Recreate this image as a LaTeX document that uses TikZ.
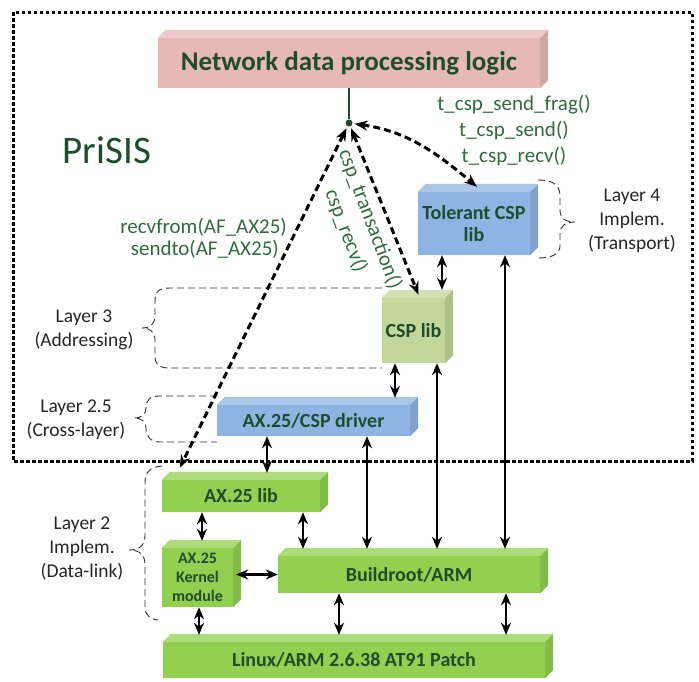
\documentclass[tikz,border=0pt]{standalone}
\usepackage{fontspec}
\setmainfont{Carlito}
\usetikzlibrary{arrows.meta,calc}

\definecolor{pinkbox}{HTML}{E6B9B8}
\definecolor{greenbox}{HTML}{92D050}
\definecolor{lightgreenbox}{HTML}{C3D69B}
\definecolor{bluebox}{HTML}{8EB4E3}
\definecolor{labelgreen}{HTML}{1E4D2B}
\definecolor{apigreen}{HTML}{2F6B3F}
\definecolor{layergray}{HTML}{262626}

% top and right faces of a cuboid whose front face is node #1
\newcommand\cubefaces[2]{%
  \fill[#2!75!white] (#1.north west) -- ++(8,-8) -- ([shift={(8,-8)}]#1.north east) -- (#1.north east) -- cycle;
  \fill[#2!90!black] (#1.north east) -- ++(8,-8) -- ([shift={(8,-8)}]#1.south east) -- (#1.south east) -- cycle;
}

\tikzset{
  boxface/.style={fill=#1, draw=none, inner sep=0pt, align=center, text=labelgreen,
    font=\fontsize{20}{22}\selectfont\bfseries},
  twoway/.style={line width=2.7pt, {Stealth[length=12pt,width=10pt]}-{Stealth[length=12pt,width=10pt]}},
  callpath/.style={line width=3pt, dash pattern=on 7pt off 4pt,
    {Stealth[length=13pt,width=10pt]}-{Stealth[length=13pt,width=10pt]}},
  brace/.style={draw=black!80, line width=0.9pt, dash pattern=on 7pt off 4pt},
  layertext/.style={align=center, text=layergray, font=\fontsize{19.5}{24}\selectfont},
  apitext/.style={text=apigreen, font=\fontsize{21}{26}\selectfont, inner sep=0pt},
}

\begin{document}
\begin{tikzpicture}[x=1pt, y=-1pt]
\useasboundingbox (0,0) rectangle (699,681);

% system boundary
\draw[line width=3pt, dash pattern=on 3.5pt off 2.5pt] (13,12) rectangle (692,461);

% layer braces
\draw[brace] (382,288) -- (170,288) .. controls (158,288) and (155,292) .. (155,302) -- (155,316)
  .. controls (155,324) and (150,328) .. (142,328) .. controls (150,328) and (155,332) .. (155,340)
  -- (155,356) .. controls (155,364) and (158,368) .. (170,368) -- (382,368);
\draw[brace] (217,396) -- (160,396) .. controls (150,396) and (146,400) .. (146,408)
  .. controls (146,414) and (142,418) .. (134,418) .. controls (142,418) and (146,422) .. (146,428)
  .. controls (146,436) and (150,442) .. (160,442) -- (217,442);
\draw[brace] (162,466) .. controls (150,467) and (145,472) .. (145,482) -- (145,535)
  .. controls (145,545) and (140,550) .. (129,550) .. controls (140,550) and (145,555) .. (145,565)
  -- (145,607) .. controls (145,615) and (150,619) .. (158,620);
\draw[brace] (538,180) .. controls (552,180) and (560,184) .. (560,196) -- (560,210)
  .. controls (560,218) and (565,222) .. (575,222) .. controls (565,222) and (560,226) .. (560,234)
  -- (560,246) .. controls (560,254) and (552,258) .. (538,258);

% layer labels
\node[layertext] (l4) at (632,221) {Layer 4\\Implem.\\(Transport)};
\node[layertext] (l3) at (84,330) {Layer 3\\(Addressing)};
\node[layertext] (l25) at (76,420) {Layer 2.5\\(Cross-layer)};
\node[layertext] (l2) at (82,549) {Layer 2\\Implem.\\(Data-link)};

\node[text=labelgreen, font=\fontsize{39}{40}\selectfont] (prisis) at (107,150) {PriSIS};

% cuboids (front faces)
\node[boxface=pinkbox, minimum width=382pt, minimum height=50pt,
      font=\fontsize{27}{29}\selectfont\bfseries] (net) at (349,63) {Network data processing logic};
\node[boxface=bluebox, minimum width=112pt, minimum height=63pt, font=\fontsize{20}{22}\selectfont\bfseries]
      (tol) at (474,223.5) {Tolerant CSP\\lib};
\node[boxface=lightgreenbox, minimum width=63pt, minimum height=65pt] (csp) at (413.5,330.5) {CSP lib};
\node[boxface=bluebox, minimum width=193pt, minimum height=31pt] (drv) at (313.5,420.5) {AX.25/CSP driver};
\node[boxface=greenbox, minimum width=158pt, minimum height=32pt] (axlib) at (241,496) {AX.25 lib};
\node[boxface=greenbox, minimum width=71pt, minimum height=59pt, font=\fontsize{16}{19}\selectfont\bfseries]
      (kern) at (197.5,577.5) {AX.25\\Kernel\\module};
\node[boxface=greenbox, minimum width=262pt, minimum height=37pt] (build) at (409,574.5) {Buildroot/ARM};
\node[boxface=greenbox, minimum width=382pt, minimum height=36pt] (linux) at (354,660) {Linux/ARM 2.6.38 AT91 Patch};

\cubefaces{net}{pinkbox}
\cubefaces{tol}{bluebox}
\cubefaces{csp}{lightgreenbox}
\cubefaces{drv}{bluebox}
\cubefaces{axlib}{greenbox}
\cubefaces{kern}{greenbox}
\cubefaces{build}{greenbox}
\cubefaces{linux}{greenbox}

% API hub under the processing logic
\node[circle, fill=labelgreen, inner sep=0pt, minimum size=7pt] (hub) at (349,123) {};
\draw[labelgreen, line width=2.5pt] (net.south) -- (hub);

% API call labels
\node[apitext, anchor=base] (tfrag) at (514,110) {t\_csp\_send\_frag()};
\node[apitext, anchor=base] (tsend) at (514,136) {t\_csp\_send()};
\node[apitext, anchor=base] (trecv) at (514,162) {t\_csp\_recv()};
\node[apitext, anchor=base east] (rcvfrom) at (287,233) {recvfrom(AF\_AX25)};
\node[apitext, anchor=base east] (sndto) at (279,255) {sendto(AF\_AX25)};
\node[apitext, rotate=-69.5] (ctrans) at (370,219) {csp\_transaction()};
\node[apitext, rotate=-69.5] (crecv) at (346,231) {csp\_recv()};

% socket / CSP call paths
\coordinate (axin) at ([shift={(18,-12)}]axlib.north west);
\coordinate (cspin) at ([shift={(5,-3)}]csp.north);
\coordinate (tolin) at ([shift={(3,-5)}]tol.north);
\draw[callpath, shorten <=2pt] (hub) -- (axin);
\draw[callpath, shorten <=2pt] (hub) -- (cspin);
\draw[callpath, shorten <=2pt] (hub) to[out=-8, in=140] (tolin);

% component interfaces
\draw[twoway] (442,0 |- tol.south) -- ([yshift=8pt]442,0 |- csp.north);
\draw[twoway] (505,0 |- tol.south) -- ([yshift=7pt]505,0 |- build.north);
\draw[twoway] (395,0 |- csp.south) -- ([yshift=7pt]395,0 |- drv.north);
\draw[twoway] (437,0 |- csp.south) -- ([yshift=7pt]437,0 |- build.north);
\draw[twoway] (367,0 |- drv.south) -- ([yshift=7pt]367,0 |- build.north);
\draw[twoway] (267,0 |- drv.south) -- ([yshift=7pt]267,0 |- axlib.north);
\draw[twoway] (202,0 |- axlib.south) -- ([yshift=7pt]202,0 |- kern.north);
\draw[twoway] (303,0 |- axlib.south) -- ([yshift=7pt]303,0 |- build.north);
\draw[twoway] ([xshift=3pt]build.west -| kern.east) -- (build.west);
\draw[twoway] (199,0 |- kern.south) -- ([yshift=7pt]199,0 |- linux.north);
\draw[twoway] (339,0 |- build.south) -- ([yshift=7pt]339,0 |- linux.north);
\draw[twoway] (506,0 |- build.south) -- ([yshift=7pt]506,0 |- linux.north);
\end{tikzpicture}
\end{document}
